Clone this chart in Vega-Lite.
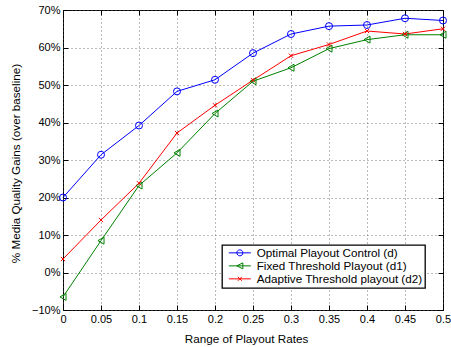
{
  "$schema": "https://vega.github.io/schema/vega-lite/v6.json",
  "width": 380,
  "height": 300,
  "autosize": "none",
  "padding": {"left": 63, "top": 10, "right": 8, "bottom": 37},
  "config": {
    "font": "Liberation Sans",
    "view": {"stroke": "#000", "strokeWidth": 1},
    "axis": {
      "labelFontSize": 11,
      "labelColor": "#000",
      "titleFontSize": 11.7,
      "titleFontWeight": "normal",
      "titleColor": "#000",
      "domain": false,
      "tickColor": "#000",
      "tickSize": -5,
      "labelFlush": false,
      "labelOverlap": false,
      "gridColor": "#555",
      "gridDash": [1, 3],
      "gridOpacity": 0.8
    },
    "legend": {
      "title": null, "orient": "none", "legendX": 159, "legendY": 235,
      "strokeColor": "#000", "strokeWidth": 1.3, "fillColor": "#fff", "padding": 2,
      "labelFontSize": 11.7, "labelColor": "#000", "labelOffset": 11, "labelLimit": 300,
      "symbolOffset": 10,
      "symbolSize": 100, "symbolStrokeWidth": 1, "symbolFillColor": "transparent",
      "rowPadding": 0,
      "labelExpr": "datum.label + '\u00a0\u00a0'"
    }
  },
  "data": {
    "values": [
      {"x": 0, "gain": 20.0, "series": "Optimal Playout Control (d)"},
      {"x": 0.05, "gain": 31.4, "series": "Optimal Playout Control (d)"},
      {"x": 0.1, "gain": 39.2, "series": "Optimal Playout Control (d)"},
      {"x": 0.15, "gain": 48.3, "series": "Optimal Playout Control (d)"},
      {"x": 0.2, "gain": 51.4, "series": "Optimal Playout Control (d)"},
      {"x": 0.25, "gain": 58.5, "series": "Optimal Playout Control (d)"},
      {"x": 0.3, "gain": 63.6, "series": "Optimal Playout Control (d)"},
      {"x": 0.35, "gain": 65.7, "series": "Optimal Playout Control (d)"},
      {"x": 0.4, "gain": 66.0, "series": "Optimal Playout Control (d)"},
      {"x": 0.45, "gain": 67.8, "series": "Optimal Playout Control (d)"},
      {"x": 0.5, "gain": 67.2, "series": "Optimal Playout Control (d)"},
      {"x": 0, "gain": -6.5, "series": "Fixed Threshold Playout (d1)"},
      {"x": 0.05, "gain": 8.5, "series": "Fixed Threshold Playout (d1)"},
      {"x": 0.1, "gain": 23.2, "series": "Fixed Threshold Playout (d1)"},
      {"x": 0.15, "gain": 31.9, "series": "Fixed Threshold Playout (d1)"},
      {"x": 0.2, "gain": 42.4, "series": "Fixed Threshold Playout (d1)"},
      {"x": 0.25, "gain": 51.0, "series": "Fixed Threshold Playout (d1)"},
      {"x": 0.3, "gain": 54.6, "series": "Fixed Threshold Playout (d1)"},
      {"x": 0.35, "gain": 59.7, "series": "Fixed Threshold Playout (d1)"},
      {"x": 0.4, "gain": 62.1, "series": "Fixed Threshold Playout (d1)"},
      {"x": 0.45, "gain": 63.4, "series": "Fixed Threshold Playout (d1)"},
      {"x": 0.5, "gain": 63.4, "series": "Fixed Threshold Playout (d1)"},
      {"x": 0, "gain": 3.6, "series": "Adaptive Threshold playout (d2)"},
      {"x": 0.05, "gain": 14.0, "series": "Adaptive Threshold playout (d2)"},
      {"x": 0.1, "gain": 23.8, "series": "Adaptive Threshold playout (d2)"},
      {"x": 0.15, "gain": 37.2, "series": "Adaptive Threshold playout (d2)"},
      {"x": 0.2, "gain": 44.6, "series": "Adaptive Threshold playout (d2)"},
      {"x": 0.25, "gain": 51.3, "series": "Adaptive Threshold playout (d2)"},
      {"x": 0.3, "gain": 57.8, "series": "Adaptive Threshold playout (d2)"},
      {"x": 0.35, "gain": 60.8, "series": "Adaptive Threshold playout (d2)"},
      {"x": 0.4, "gain": 64.4, "series": "Adaptive Threshold playout (d2)"},
      {"x": 0.45, "gain": 63.6, "series": "Adaptive Threshold playout (d2)"},
      {"x": 0.5, "gain": 65.0, "series": "Adaptive Threshold playout (d2)"}
    ]
  },
  "layer": [
    {
      "mark": {"type": "line", "strokeWidth": 1},
      "encoding": {
        "x": {
          "field": "x", "type": "quantitative",
          "scale": {"domain": [0, 0.5], "nice": false},
          "axis": {"orient": "top", "labels": false, "grid": false, "title": null,
                   "values": [0, 0.05, 0.1, 0.15, 0.2, 0.25, 0.3, 0.35, 0.4, 0.45, 0.5]}
        },
        "y": {
          "field": "gain", "type": "quantitative",
          "scale": {"domain": [-10, 70], "nice": false},
          "axis": {"orient": "right", "labels": false, "grid": false, "title": null,
                   "values": [-10, 0, 10, 20, 30, 40, 50, 60, 70]}
        },
        "color": {
          "field": "series", "type": "nominal",
          "scale": {
            "domain": ["Optimal Playout Control (d)", "Fixed Threshold Playout (d1)", "Adaptive Threshold playout (d2)"],
            "range": ["#0000ff", "#008000", "#ff0000"]
          }
        },
        "detail": {"field": "series"}
      }
    },
    {
      "mark": {"type": "point", "filled": false, "size": 49, "strokeWidth": 1, "opacity": 1},
      "encoding": {
        "x": {
          "field": "x", "type": "quantitative",
          "axis": {"orient": "bottom", "grid": true, "title": "Range of Playout Rates",
                   "format": "~g", "labelPadding": 8, "titlePadding": 9, "titleX": 183,
                   "values": [0, 0.05, 0.1, 0.15, 0.2, 0.25, 0.3, 0.35, 0.4, 0.45, 0.5]}
        },
        "y": {
          "field": "gain", "type": "quantitative",
          "axis": {"orient": "left", "grid": true, "title": "% Media Quality Gains (over baseline)",
                   "labelExpr": "format(datum.value, 'd') + '%'", "labelPadding": 8, "titlePadding": 10,
                   "titleY": 153,
                   "values": [-10, 0, 10, 20, 30, 40, 50, 60, 70]}
        },
        "color": {"field": "series", "type": "nominal"},
        "shape": {
          "condition": [
            {"test": "datum.series === 'Optimal Playout Control (d)'", "value": "circle"},
            {"test": "datum.series === 'Fixed Threshold Playout (d1)'", "value": "triangle-left"}
          ],
          "value": "M-0.6,-0.6L0.6,0.6M-0.6,0.6L0.6,-0.6"
        }
      }
    },
    {
      "transform": [{"filter": "datum.x < 0"}],
      "mark": {"type": "point", "filled": false, "strokeWidth": 1, "opacity": 1},
      "encoding": {
        "color": {"field": "series", "type": "nominal"},
        "shape": {
          "field": "series", "type": "nominal",
          "scale": {
            "domain": ["Optimal Playout Control (d)", "Fixed Threshold Playout (d1)", "Adaptive Threshold playout (d2)"],
            "range": [
              "M-2.2,0L2.2,0M-0.6,0A0.6,0.6 0 1,0 0.6,0A0.6,0.6 0 1,0 -0.6,0",
              "M-2.2,0L2.2,0M-0.6,0L0.6,-0.6L0.6,0.6Z",
              "M-2.2,0L2.2,0M-0.4,-0.4L0.4,0.4M-0.4,0.4L0.4,-0.4"
            ]
          }
        }
      }
    }
  ]
}
